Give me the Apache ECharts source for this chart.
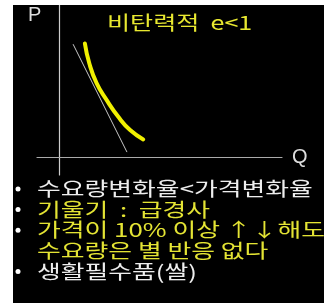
<!DOCTYPE html>
<html>
<head>
<meta charset="utf-8">
<script src="https://cdn.jsdelivr.net/npm/echarts@6/dist/echarts.min.js"></script>
<style>
  html, body { margin: 0; padding: 0; background: #fff; }
  #chart { position: absolute; left: 13px; top: 5px; width: 311px; height: 298px; }
</style>
</head>
<body>
<div id="chart"></div>
<script>
// demand curve (inelastic), Q/P in chart units
var curveQ = [1.15, 1.35, 1.68, 2.13, 2.65, 3.18, 3.77];
var curveP = [6.35, 5.23, 4.12, 3.18, 2.25, 1.51, 0.99];
// reference straight line
var lineQ = [0.62, 3.04];
var lineP = [6.31, 0.28];

var titleText = '비탄력적  e<1';
var axisNames = ['P', 'Q'];
var bullets = [
  { text: '수요량변화율<가격변화율', color: '#eeeeee', dot: true },
  { text: '기울기  :  급경사', color: '#e4e434', dot: true },
  { text: '가격이 10% 이상 ↑↓해도', color: '#e4e434', dot: true },
  { text: '수요량은 별 반응 없다', color: '#e4e434', dot: false },
  { text: '생활필수품(쌀)', color: '#eeeeee', dot: true }
];

function pairs(xs, ys) {
  var out = [];
  for (var i = 0; i < xs.length; i++) out.push([xs[i], ys[i]]);
  return out;
}

// chart div sits at (13,5) on the page
var ox = 13, oy = 5;
var font = '"Noto Sans CJK KR", sans-serif';
var graphics = [];
bullets.forEach(function (b, i) {
  var y = 189 + i * 20.6 - oy;
  if (b.dot) {
    graphics.push({ type: 'circle', shape: { cx: 18 - ox, cy: y, r: 2.5 }, style: { fill: '#ffffff' } });
  }
  graphics.push({
    type: 'text', x: 37 - ox, y: y, scaleX: 1.36,
    style: { text: b.text, fill: b.color, font: '19px ' + font, verticalAlign: 'middle' }
  });
});
graphics.push({ type: 'text', x: 28 - ox, y: 15 - oy, style: { text: axisNames[0], fill: '#dddddd', font: '20px "Liberation Sans", sans-serif', verticalAlign: 'middle' } });
graphics.push({ type: 'text', x: 292 - ox, y: 157 - oy, style: { text: axisNames[1], fill: '#dddddd', font: '20px "Liberation Sans", sans-serif', verticalAlign: 'middle' } });
graphics.push({ type: 'text', x: 107 - ox, y: 23 - oy, scaleX: 1.32, style: { text: titleText, fill: '#e8e830', font: '19px ' + font, verticalAlign: 'middle' } });

var chart = echarts.init(document.getElementById('chart'));
chart.setOption({
  backgroundColor: '#000',
  animation: false,
  grid: { left: 24, right: 42, top: 0, bottom: 128 },
  xAxis: {
    type: 'value', min: -1, max: 10,
    axisLine: { onZero: true, lineStyle: { color: '#aaaaaa', width: 1.2 } },
    axisTick: { show: false }, axisLabel: { show: false }, splitLine: { show: false }
  },
  yAxis: {
    type: 'value', min: -1, max: 8.5,
    axisLine: { onZero: true, lineStyle: { color: '#cccccc', width: 1.2 } },
    axisTick: { show: false }, axisLabel: { show: false }, splitLine: { show: false }
  },
  series: [
    {
      type: 'line', data: pairs(lineQ, lineP), symbol: 'none',
      lineStyle: { color: '#c8c8c8', width: 1 }
    },
    {
      type: 'line', data: pairs(curveQ, curveP), symbol: 'none', smooth: true,
      lineStyle: { color: '#f0f000', width: 4, cap: 'round' }
    }
  ],
  graphic: graphics
});
</script>
</body>
</html>
